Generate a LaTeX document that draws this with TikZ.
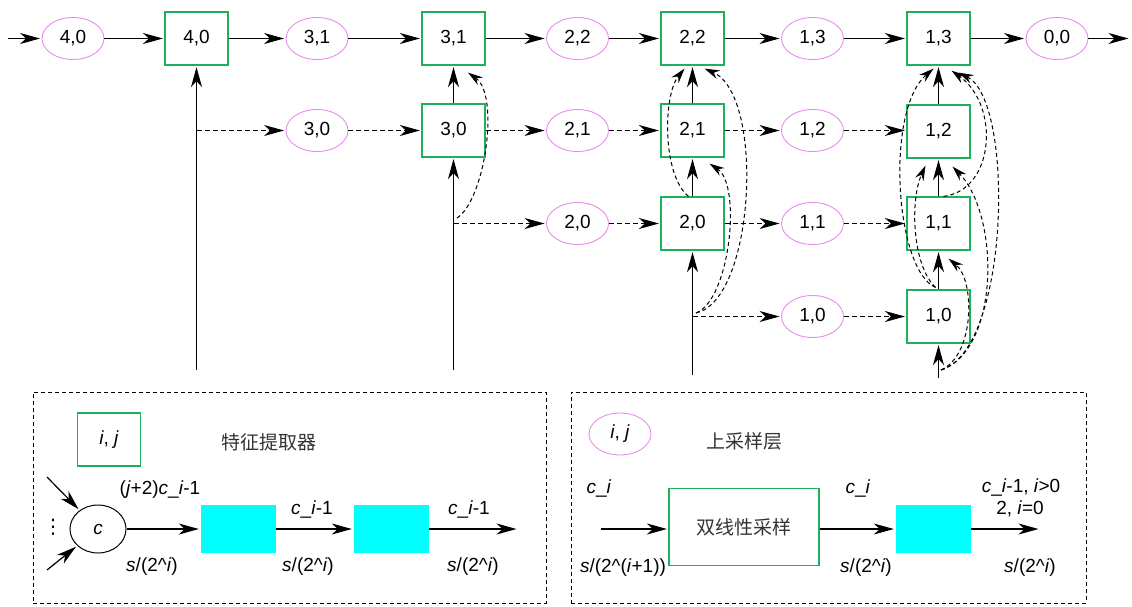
\documentclass[tikz,border=0pt]{standalone}
\usepackage{fontspec}
\setmainfont{Liberation Sans}
\newfontfamily\cjk{Noto Sans CJK SC}
\newfontfamily\dejavu{DejaVu Sans}
\usetikzlibrary{arrows.meta,shapes.geometric,calc}
\definecolor{boxgreen}{RGB}{30,176,90}
\definecolor{upviolet}{RGB}{232,140,238}
\definecolor{aqua}{RGB}{0,255,255}
\begin{document}
\begin{tikzpicture}[x=1pt,y=-1pt,
  every node/.style={font=\fontsize{19}{22}\selectfont},
  >={Stealth[length=20pt,width=11pt,inset=6pt]},
  lnk/.style={->,line width=1.2pt,shorten >=1.5pt},
  dlnk/.style={->,line width=1pt,dash pattern=on 5pt off 3pt,shorten >=1.5pt},
  dcurve/.style={-{Stealth[length=15pt,width=9pt,inset=5pt]},line width=1pt,dash pattern=on 4pt off 3pt},
  kbox/.style={draw=boxgreen,line width=1.2pt,minimum width=63pt,minimum height=53pt,inner sep=0pt},
  upell/.style={ellipse,draw=upviolet,line width=0.9pt,minimum width=62pt,minimum height=42pt,inner sep=0pt},
  cyanbox/.style={fill=aqua,minimum width=75pt,minimum height=48pt,inner sep=0pt},
  legframe/.style={draw,line width=0.9pt,dash pattern=on 4pt off 3pt,inner sep=0pt},
  cjklabel/.style={font=\fontsize{19}{22}\selectfont\cjk,text=black!80},
]
\useasboundingbox (0,0) rectangle (1132,606);

% ---- encoder / decoder grid ----
\node[upell] (e40) at (73,38.5) {4,0};
\node[kbox]  (b40) at (196.5,38.5) {4,0};
\node[upell] (e31) at (317,38.5) {3,1};
\node[kbox]  (b31) at (453.5,38.5) {3,1};
\node[upell] (e22) at (577.5,38.5) {2,2};
\node[kbox]  (b22) at (692.5,38.5) {2,2};
\node[upell] (e13) at (812.5,38.5) {1,3};
\node[kbox]  (b13) at (938.5,38.5) {1,3};
\node[upell] (e00) at (1057,38.5) {0,0};

\node[upell] (e30) at (317,130.5) {3,0};
\node[kbox]  (b30) at (453.5,130.5) {3,0};
\node[upell] (e21) at (577.5,130.5) {2,1};
\node[kbox]  (b21) at (692.5,130.5) {2,1};
\node[upell] (e12) at (812.5,130.5) {1,2};
\node[kbox]  (b12) at (938.5,131.5) {1,2};

\node[upell] (e20) at (577.5,223.5) {2,0};
\node[kbox]  (b20) at (692.5,223.5) {2,0};
\node[upell] (e11) at (812.5,223.5) {1,1};
\node[kbox]  (b11) at (938.5,223.5) {1,1};

\node[upell] (e10) at (812.5,316.5) {1,0};
\node[kbox]  (b10) at (938.5,316.5) {1,0};

\coordinate (src) at (8,38.5);
\coordinate (snk) at (1130,38.5);
\coordinate (in4) at (196.5,370);
\coordinate (in3) at (453.5,370);
\coordinate (in2) at (692.5,375);
\coordinate (in1) at (938.5,378);
\coordinate (br4) at (196.5,130.5);
\coordinate (br3) at (453.5,223.5);
\coordinate (br2) at (692.5,316.5);
\coordinate (c3) at (457,218);
\coordinate (c2) at (696,313);
\coordinate (c1) at (941,370);

% main path
\draw[lnk] (src) -- (e40);
\draw[lnk] (e40) -- (b40);
\draw[lnk] (b40) -- (e31);
\draw[lnk] (e31) -- (b31);
\draw[lnk] (b31) -- (e22);
\draw[lnk] (e22) -- (b22);
\draw[lnk] (b22) -- (e13);
\draw[lnk] (e13) -- (b13);
\draw[lnk] (b13) -- (e00);
\draw[lnk] (e00) -- (snk);

% inner rows
\draw[dlnk] (br4) -- (e30);
\draw[dlnk] (e30) -- (b30);
\draw[dlnk] (b30) -- (e21);
\draw[dlnk] (e21) -- (b21);
\draw[dlnk] (b21) -- (e12);
\draw[dlnk] (e12) -- (e12 -| b12.west);
\draw[dlnk] (br3) -- (e20);
\draw[dlnk] (e20) -- (b20);
\draw[dlnk] (b20) -- (e11);
\draw[dlnk] (e11) -- (b11);
\draw[dlnk] (br2) -- (e10);
\draw[dlnk] (e10) -- (b10);

% vertical feeds
\draw[lnk] (in4) -- (b40);
\draw[lnk] (in3) -- (b30);
\draw[lnk] (b30) -- (b31);
\draw[lnk] (in2) -- (b20);
\draw[lnk] (b20) -- (b21);
\draw[lnk] (b21) -- (b22);
\draw[lnk] (in1) -- (b10);
\draw[lnk] (b10) -- (b11);
\draw[lnk] (b11) -- (b12);
\draw[lnk] (b12) -- (b13);

% dense skip connections
\draw[dcurve] (c3) .. controls (485,200) and (500,95) .. ($(b31.south)+(14.5,7)$);

\draw[dcurve] (c2) .. controls (730,300) and (742,185) .. ($(b21.south)+(17,6)$);
\draw[dcurve] (c2) .. controls (755,300) and (765,95) .. ($(b22.south)+(12,3)$);
\draw[dcurve] ($(b20.north)+(-4,0)$) .. controls (662,175) and (663,95) .. ($(b22.south)+(-8,3)$);

\draw[dcurve] (c1) .. controls (975,355) and (975,280) .. ($(b11.south)+(10,8)$);
\draw[dcurve] (c1) .. controls (1000,350) and (1000,215) .. ($(b12.south)+(14,8)$);
\draw[dcurve] (c1) .. controls (1010,350) and (1015,100) .. ($(b13.south)+(20,7)$);
\draw[dcurve] ($(b11.north)+(5,0)$) .. controls (995,190) and (1000,105) .. ($(b13.south)+(13,5)$);
\draw[dcurve] ($(b10.north)+(-3,-2)$) .. controls (895,270) and (885,110) .. ($(b13.south)+(-5,3)$);
\draw[dcurve] ($(b10.north)+(-3,-2)$) .. controls (912,265) and (910,200) .. ($(b12.south)+(-13,7)$);

% ---- legend: feature extractor ----
\node[legframe,minimum width=513pt,minimum height=211pt] (legL) at (289.5,497.5) {};
\node[kbox] (kkey) at (109,439.5) {\textit{i}, \textit{j}};
\node[cjklabel] (ktitle) at (269,442) {特征提取器};
\node[ellipse,draw,line width=1pt,minimum width=56pt,minimum height=48pt,inner sep=0pt] (cc) at (98,529) {\textit{c}};
\coordinate (ca) at (47,477);
\coordinate (cb) at (47,570);
\draw[lnk] (ca) -- (cc);
\draw[lnk] (cb) -- (cc);
\node[font=\fontsize{20}{24}\selectfont\dejavu] (dots) at (53,527) {⋮};
\node (lcat) at (160,490) {(\textit{j}+2)\textit{c}\_\textit{i}-1};
\node[cyanbox] (cy1) at (238,529) {};
\node[cyanbox] (cy2) at (391,529) {};
\coordinate (lout) at (518,529);
\draw[lnk] (cc) -- (cy1);
\draw[lnk] (cy1) -- (cy2);
\draw[lnk] (cy2) -- (lout);
\node (ls1) at (152,567) {\textit{s}/(2\^{}\textit{i})};
\node (ls2) at (308,567) {\textit{s}/(2\^{}\textit{i})};
\node (ls3) at (473,567) {\textit{s}/(2\^{}\textit{i})};
\node (lc2) at (312,509) {\textit{c}\_\textit{i}-1};
\node (lc3) at (469,509) {\textit{c}\_\textit{i}-1};

% ---- legend: upsampling layer ----
\node[legframe,minimum width=515pt,minimum height=211pt] (legR) at (828.5,497.5) {};
\node[upell] (ukey) at (620,434) {\textit{i}, \textit{j}};
\node[cjklabel] (utitle) at (744,441) {上采样层};
\coordinate (uin) at (601,529);
\node[draw=boxgreen,line width=1.2pt,minimum width=150pt,minimum height=77pt,inner sep=0pt,cjklabel] (bil) at (744,527) {双线性采样};
\node[cyanbox] (cy3) at (933,529) {};
\coordinate (uout) at (1040,529);
\draw[lnk] (uin) -- (uin -| bil.west);
\draw[lnk] (bil.east |- cy3) -- (cy3);
\draw[lnk] (cy3) -- (uout);
\node (uc1) at (599,488) {\textit{c}\_\textit{i}};
\node (us1) at (623,568) {\textit{s}/(2\^{}(\textit{i}+1))};
\node (uc2) at (858,488) {\textit{c}\_\textit{i}};
\node (us2) at (866,568) {\textit{s}/(2\^{}\textit{i})};
\node (uc3) at (1021,487) {\textit{c}\_\textit{i}-1, \textit{i}>0};
\node (uc4) at (1020,509) {2, \textit{i}=0};
\node (us3) at (1030,568) {\textit{s}/(2\^{}\textit{i})};
\end{tikzpicture}
\end{document}
